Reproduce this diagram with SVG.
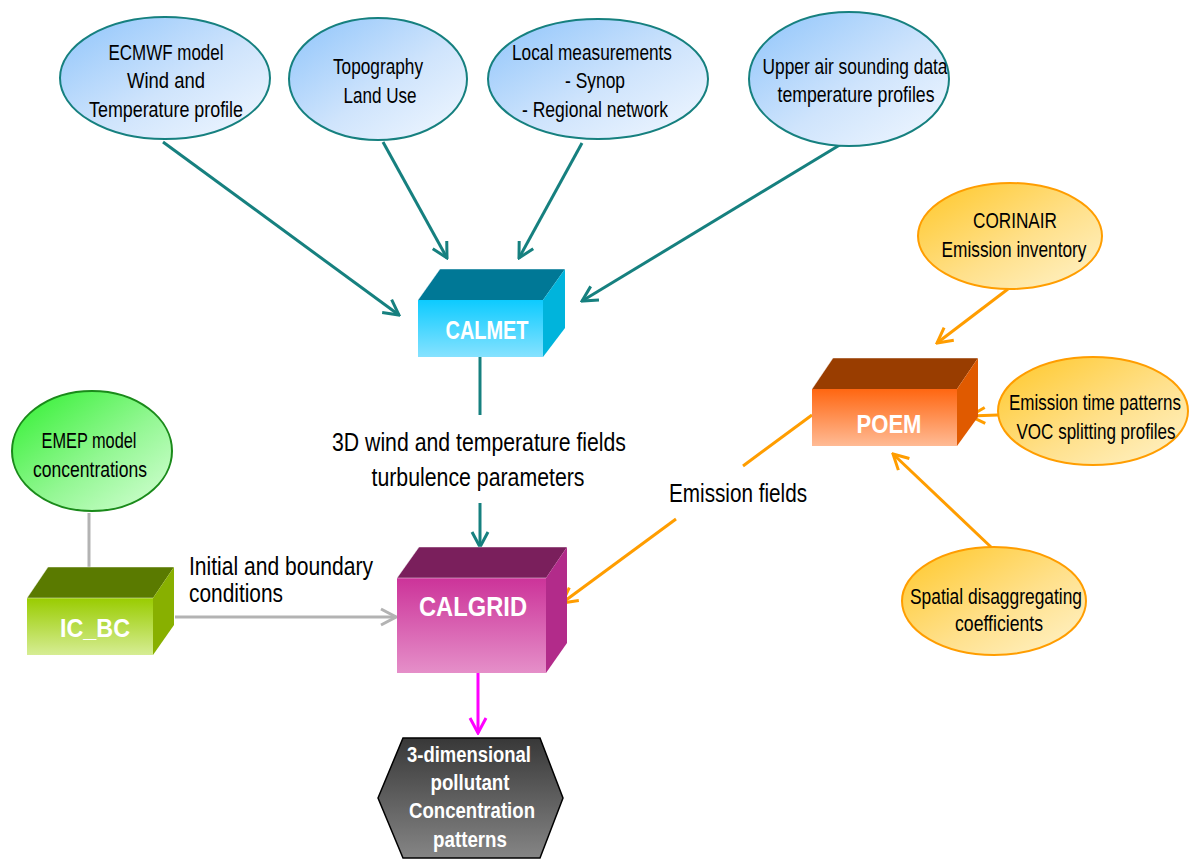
<svg xmlns="http://www.w3.org/2000/svg" width="1190" height="860" viewBox="0 0 1190 860">
<defs>
<linearGradient id="gBlue" x1="0" y1="0" x2="1" y2="1"><stop offset="0" stop-color="#8ec4fb"/><stop offset="0.55" stop-color="#cfe4fc"/><stop offset="1" stop-color="#f2f8ff"/></linearGradient>
<linearGradient id="gOrange" x1="0" y1="0" x2="1" y2="1"><stop offset="0" stop-color="#ffc726"/><stop offset="0.55" stop-color="#ffe08a"/><stop offset="1" stop-color="#fff3cc"/></linearGradient>
<linearGradient id="gGreen" x1="0" y1="0" x2="1" y2="1"><stop offset="0" stop-color="#2ef02e"/><stop offset="0.55" stop-color="#93f793"/><stop offset="1" stop-color="#d8ffd8"/></linearGradient>
<linearGradient id="fCalmet" x1="0" y1="0" x2="0" y2="1"><stop offset="0" stop-color="#0dcbff"/><stop offset="1" stop-color="#86e2ff"/></linearGradient>
<linearGradient id="fCalgrid" x1="0" y1="0" x2="0" y2="1"><stop offset="0" stop-color="#cc3399"/><stop offset="1" stop-color="#e58fc9"/></linearGradient>
<linearGradient id="fPoem" x1="0" y1="0" x2="0" y2="1"><stop offset="0" stop-color="#ff6611"/><stop offset="1" stop-color="#ffbb95"/></linearGradient>
<linearGradient id="fIcbc" x1="0" y1="0" x2="0" y2="1"><stop offset="0" stop-color="#99cc00"/><stop offset="1" stop-color="#d6ed94"/></linearGradient>
<linearGradient id="fHex" x1="0" y1="0" x2="0" y2="1"><stop offset="0" stop-color="#383838"/><stop offset="1" stop-color="#858585"/></linearGradient>
<marker id="aTeal" viewBox="0 0 20 20" refX="18" refY="10" markerWidth="20" markerHeight="20" markerUnits="userSpaceOnUse" orient="auto"><path d="M3,2 L18,10 L3,18" fill="none" stroke="#16807f" stroke-width="3"/></marker>
<marker id="aOrange" viewBox="0 0 20 20" refX="18" refY="10" markerWidth="20" markerHeight="20" markerUnits="userSpaceOnUse" orient="auto"><path d="M3,2 L18,10 L3,18" fill="none" stroke="#ff9d00" stroke-width="3"/></marker>
<marker id="aGray" viewBox="0 0 20 20" refX="18" refY="10" markerWidth="20" markerHeight="20" markerUnits="userSpaceOnUse" orient="auto"><path d="M3,2 L18,10 L3,18" fill="none" stroke="#b3b3b3" stroke-width="3"/></marker>
<marker id="aMag" viewBox="0 0 20 20" refX="18" refY="10" markerWidth="20" markerHeight="20" markerUnits="userSpaceOnUse" orient="auto"><path d="M3,2 L18,10 L3,18" fill="none" stroke="#ff00ff" stroke-width="3"/></marker>
</defs>
<style>
text{font-family:"Liberation Sans",Arial,sans-serif;}
.t{font-size:22px;fill:#000;text-anchor:middle;}
.lbl{font-size:25px;fill:#000;}
.bx{font-size:26px;font-weight:bold;fill:#fff;text-anchor:middle;}
.hx{font-size:22px;font-weight:bold;fill:#fff;text-anchor:middle;}
.eb{fill:url(#gBlue);stroke:#16807f;stroke-width:2;}
.eo{fill:url(#gOrange);stroke:#ff9d00;stroke-width:2;}
.eg{fill:url(#gGreen);stroke:#1a8a1a;stroke-width:2;}
.teal{stroke:#16807f;stroke-width:3;fill:none;}
.or{stroke:#ff9d00;stroke-width:3;fill:none;}
.gr{stroke:#b3b3b3;stroke-width:3;fill:none;}
.mg{stroke:#ff00ff;stroke-width:3;fill:none;}
.edge{stroke:#ffffff;stroke-opacity:0.45;stroke-width:1;}
</style>
<rect width="1190" height="860" fill="#ffffff"/>

<g id="connectors">
<line class="teal" x1="163" y1="142" x2="399" y2="315" marker-end="url(#aTeal)"/>
<line class="teal" x1="383" y1="142" x2="447" y2="258" marker-end="url(#aTeal)"/>
<line class="teal" x1="582" y1="143" x2="519" y2="258" marker-end="url(#aTeal)"/>
<line class="teal" x1="843" y1="143" x2="582" y2="301" marker-end="url(#aTeal)"/>
<line class="teal" x1="480" y1="357" x2="480" y2="415"/>
<line class="teal" x1="480" y1="503" x2="480" y2="547" marker-end="url(#aTeal)"/>
<line class="gr" x1="89" y1="513" x2="89" y2="567"/>
<line class="gr" x1="175" y1="617" x2="396" y2="617" marker-end="url(#aGray)"/>
<line class="mg" x1="478" y1="673" x2="478" y2="733" marker-end="url(#aMag)"/>
<line class="or" x1="1008" y1="289" x2="937" y2="343" marker-end="url(#aOrange)"/>
<line class="or" x1="998" y1="415" x2="970" y2="416" marker-end="url(#aOrange)"/>
<line class="or" x1="992" y1="548" x2="893" y2="454" marker-end="url(#aOrange)"/>
<line class="or" x1="812" y1="415" x2="743" y2="466"/>
<line class="or" x1="676" y1="519" x2="562" y2="603" marker-end="url(#aOrange)"/>
<text class="lbl" x="479" y="451" textLength="294" lengthAdjust="spacingAndGlyphs" text-anchor="middle">3D wind and temperature fields</text>
<text class="lbl" x="478" y="486" textLength="213" lengthAdjust="spacingAndGlyphs" text-anchor="middle">turbulence parameters</text>
<text class="lbl" x="189" y="575" textLength="184" lengthAdjust="spacingAndGlyphs">Initial and boundary</text>
<text class="lbl" x="189" y="602" textLength="94" lengthAdjust="spacingAndGlyphs">conditions</text>
<text class="lbl" x="738" y="502" textLength="138" lengthAdjust="spacingAndGlyphs" text-anchor="middle">Emission fields</text>
</g>

<g id="ecmwf">
<ellipse class="eb" cx="165" cy="78" rx="105" ry="61"/>
<text class="t" x="166" y="60" textLength="115" lengthAdjust="spacingAndGlyphs">ECMWF model</text>
<text class="t" x="166" y="88" textLength="78" lengthAdjust="spacingAndGlyphs">Wind and</text>
<text class="t" x="166" y="117" textLength="154" lengthAdjust="spacingAndGlyphs">Temperature profile</text>
</g>
<g id="topography">
<ellipse class="eb" cx="378" cy="79" rx="89" ry="61"/>
<text class="t" x="378" y="74" textLength="90" lengthAdjust="spacingAndGlyphs">Topography</text>
<text class="t" x="380" y="103" textLength="73" lengthAdjust="spacingAndGlyphs">Land Use</text>
</g>
<g id="local">
<ellipse class="eb" cx="598" cy="79" rx="110" ry="60"/>
<text class="t" x="592" y="60" textLength="160" lengthAdjust="spacingAndGlyphs">Local measurements</text>
<text class="t" x="595" y="88" textLength="60" lengthAdjust="spacingAndGlyphs">- Synop</text>
<text class="t" x="595" y="117" textLength="146" lengthAdjust="spacingAndGlyphs">- Regional network</text>
</g>
<g id="upperair">
<ellipse class="eb" cx="849" cy="79" rx="100" ry="67"/>
<text class="t" x="855" y="74" textLength="185" lengthAdjust="spacingAndGlyphs">Upper air sounding data</text>
<text class="t" x="856" y="102" textLength="157" lengthAdjust="spacingAndGlyphs">temperature profiles</text>
</g>

<g id="calmet">
<polygon points="418,300 440,269 565,269 543,300" fill="#007896"/>
<polygon points="543,300 565,269 565,328 543,357" fill="#00b4dc"/>
<rect x="418" y="300" width="125" height="57" fill="url(#fCalmet)"/>
<polyline class="edge" points="418,300 440,269 565,269" fill="none"/>
<text class="bx" x="487" y="339" textLength="83" lengthAdjust="spacingAndGlyphs">CALMET</text>
</g>

<g id="calgrid">
<polygon points="397,578 419,547 567,547 546,578" fill="#7a1f5c"/>
<polygon points="546,578 567,547 567,643 546,673" fill="#b22b8a"/>
<rect x="397" y="578" width="149" height="95" fill="url(#fCalgrid)"/>
<polyline class="edge" points="397,578 419,547 567,547" fill="none"/>
<line class="edge" x1="397" y1="578" x2="546" y2="578"/>
<text class="bx" x="473" y="616" textLength="108" lengthAdjust="spacingAndGlyphs" style="font-size:28px">CALGRID</text>
</g>

<g id="poem">
<polygon points="812,389 833,358 978,358 957,389" fill="#993d00"/>
<polygon points="957,389 978,358 978,417 957,446" fill="#e05a00"/>
<rect x="812" y="389" width="145" height="57" fill="url(#fPoem)"/>
<polyline class="edge" points="812,389 833,358 978,358" fill="none"/>
<text class="bx" x="889" y="433" textLength="65" lengthAdjust="spacingAndGlyphs">POEM</text>
</g>

<g id="icbc">
<polygon points="27,598 48,567 174,567 153,598" fill="#5a7a00"/>
<polygon points="153,598 174,567 174,625 153,655" fill="#88b000"/>
<rect x="27" y="598" width="126" height="57" fill="url(#fIcbc)"/>
<polyline class="edge" points="27,598 48,567 174,567" fill="none"/>
<line class="edge" x1="27" y1="598" x2="153" y2="598"/>
<text class="bx" x="95" y="637" textLength="70" lengthAdjust="spacingAndGlyphs">IC_BC</text>
</g>

<g id="emep">
<ellipse class="eg" cx="92" cy="451" rx="80" ry="60"/>
<text class="t" x="89" y="448" textLength="95" lengthAdjust="spacingAndGlyphs">EMEP model</text>
<text class="t" x="90" y="477" textLength="114" lengthAdjust="spacingAndGlyphs">concentrations</text>
</g>

<g id="corinair">
<ellipse class="eo" cx="1010" cy="236" rx="92" ry="53"/>
<text class="t" x="1015" y="228" textLength="84" lengthAdjust="spacingAndGlyphs">CORINAIR</text>
<text class="t" x="1014" y="257" textLength="145" lengthAdjust="spacingAndGlyphs">Emission inventory</text>
</g>
<g id="timepatterns">
<ellipse class="eo" cx="1093" cy="411" rx="95" ry="54"/>
<text class="t" x="1095" y="410" textLength="172" lengthAdjust="spacingAndGlyphs">Emission time patterns</text>
<text class="t" x="1096" y="439" textLength="159" lengthAdjust="spacingAndGlyphs">VOC splitting profiles</text>
</g>
<g id="spatial">
<ellipse class="eo" cx="994" cy="601" rx="92" ry="54"/>
<text class="t" x="996" y="604" textLength="172" lengthAdjust="spacingAndGlyphs">Spatial disaggregating</text>
<text class="t" x="999" y="631" textLength="88" lengthAdjust="spacingAndGlyphs">coefficients</text>
</g>

<g id="output">
<polygon points="403,738 540,738 563,798 540,858 403,858 378,798" fill="url(#fHex)" stroke="#000" stroke-width="1.5"/>
<text class="hx" x="469" y="762" textLength="124" lengthAdjust="spacingAndGlyphs">3-dimensional</text>
<text class="hx" x="470" y="790" textLength="79" lengthAdjust="spacingAndGlyphs">pollutant</text>
<text class="hx" x="472" y="818" textLength="126" lengthAdjust="spacingAndGlyphs">Concentration</text>
<text class="hx" x="470" y="847" textLength="74" lengthAdjust="spacingAndGlyphs">patterns</text>
</g>
</svg>
